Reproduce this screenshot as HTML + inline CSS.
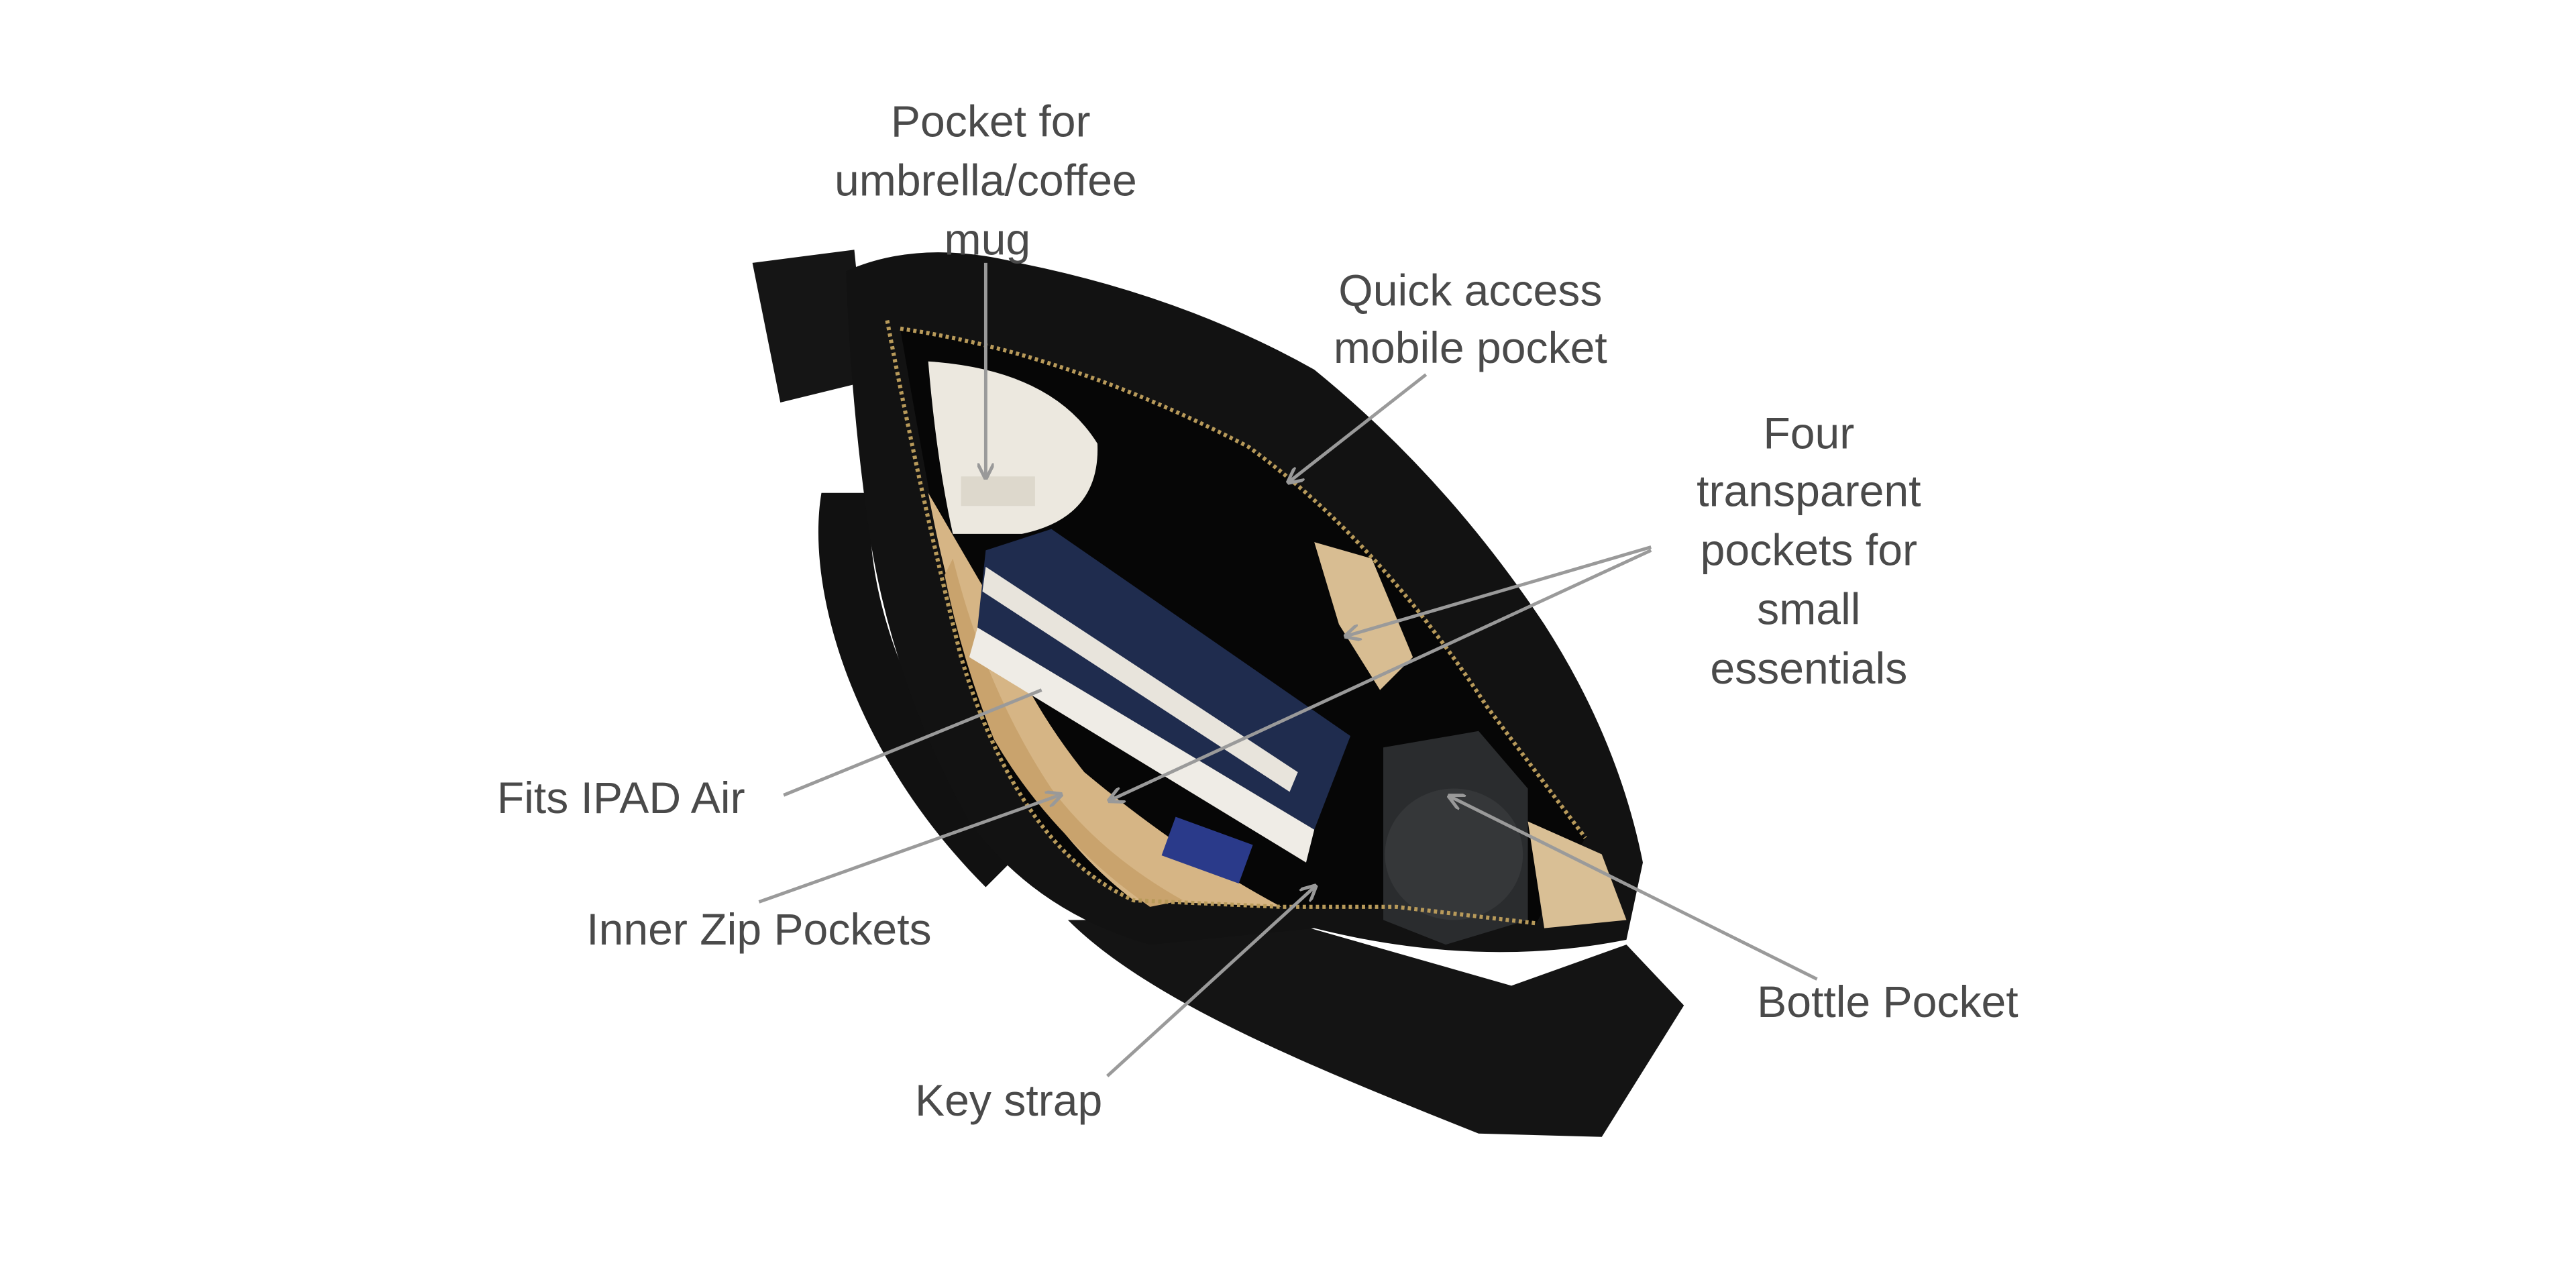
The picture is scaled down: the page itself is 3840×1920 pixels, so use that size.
<!DOCTYPE html>
<html><head><meta charset="utf-8"><style>
html,body{margin:0;padding:0;background:#fff}
svg{display:block}
text{font-family:"Liberation Sans",sans-serif;fill:#4a4a4a;font-size:27px}
</style></head><body>
<svg width="3840" height="1920" viewBox="0 0 1568 784" xmlns="http://www.w3.org/2000/svg">
<defs>
<marker id="a" viewBox="0 0 10 10" refX="8" refY="5" markerWidth="5" markerHeight="5" orient="auto"><path d="M0,0 L10,5 L0,10" fill="none" stroke="#999" stroke-width="2"/></marker>
</defs>
<rect width="1568" height="784" fill="#fff"/>
<!-- straps -->
<path d="M458,160 L520,152 L528,232 L475,245 Z" fill="#151515"/>
<path d="M500,300 C490,360 520,460 600,540 L620,520 C560,450 525,370 530,300 Z" fill="#111"/>
<path d="M650,560 C700,610 800,650 900,690 L975,692 L1025,612 L990,575 L920,600 L780,560 Z" fill="#141414"/>
<!-- body -->
<path d="M515,165 Q560,145 620,160 Q720,180 800,225 Q880,290 940,380 Q985,450 1000,525 L990,572 Q900,590 800,565 L700,575 Q630,555 590,500 Q545,420 530,330 Q518,250 515,165 Z" fill="#121212"/>
<!-- opening -->
<path d="M548,200 Q650,215 760,272 Q840,330 905,430 L965,510 L935,562 L850,552 L760,552 L690,548 Q640,520 622,485 Q595,440 585,400 Q565,300 548,200 Z" fill="#060606"/>
<!-- tan lining -->
<path d="M565,300 Q580,380 605,440 Q640,510 690,548 L780,552 Q720,520 660,470 Q620,420 600,360 Z" fill="#d6b585"/>
<path d="M580,340 Q600,420 640,480 Q670,520 720,548 L700,552 Q640,510 605,450 Q585,400 575,350 Z" fill="#c9a36d"/>
<path d="M800,330 L835,340 L860,400 L840,420 L815,380 Z" fill="#d8bd92"/>
<path d="M930,500 L975,520 L990,560 L940,565 Z" fill="#d9bf95"/>
<!-- cup -->
<path d="M565,220 Q640,225 668,270 Q670,315 622,325 L580,325 Q570,280 565,220 Z" fill="#ece8df"/>
<rect x="585" y="290" width="45" height="18" fill="#ddd8cc"/>
<!-- book -->
<path d="M600,335 L640,322 L822,448 L800,505 L595,382 Z" fill="#1f2c4e"/>
<path d="M595,382 L800,505 L795,525 L590,400 Z" fill="#efece6"/>
<path d="M600,345 L790,470 L785,482 L598,360 Z" fill="#e8e4dc"/>
<rect x="710" y="505" width="50" height="25" fill="#2a3a8a" transform="rotate(20 735 517)"/>
<!-- bottle -->
<path d="M842,455 L900,445 L930,480 L930,560 L880,575 L842,560 Z" fill="#2a2c2e"/>
<ellipse cx="885" cy="520" rx="42" ry="40" fill="#353739"/>
<!-- zipper hints -->
<path d="M548,200 Q650,215 760,272 Q840,330 905,430 L965,510" fill="none" stroke="#b89a5a" stroke-width="2.5" stroke-dasharray="2 2"/>
<path d="M540,195 Q560,300 585,400 Q600,450 622,485 Q650,530 690,548 L780,552 L850,552 L935,562" fill="none" stroke="#b89a5a" stroke-width="2.5" stroke-dasharray="2 2"/>
<!-- connectors -->
<g stroke="#9a9a9a" stroke-width="2" fill="none">
<line x1="600" y1="160" x2="600" y2="290" marker-end="url(#a)"/>
<line x1="868" y1="228" x2="785" y2="293" marker-end="url(#a)"/>
<line x1="1005" y1="333" x2="820" y2="387" marker-end="url(#a)"/>
<line x1="1005" y1="335" x2="676" y2="487" marker-end="url(#a)"/>
<line x1="477" y1="484" x2="634" y2="420"/>
<line x1="462" y1="549" x2="645" y2="484" marker-end="url(#a)"/>
<line x1="674" y1="655" x2="800" y2="540" marker-end="url(#a)"/>
<line x1="1106" y1="596" x2="883" y2="485" marker-end="url(#a)"/>
</g>
<!-- labels -->
<g text-anchor="middle">
<text x="603" y="83">Pocket for</text>
<text x="600" y="119">umbrella/coffee</text>
<text x="601" y="155">mug</text>
<text x="895" y="186">Quick access</text>
<text x="895" y="221">mobile pocket</text>
<text x="1101" y="273">Four</text>
<text x="1101" y="308">transparent</text>
<text x="1101" y="344">pockets for</text>
<text x="1101" y="380">small</text>
<text x="1101" y="416">essentials</text>
<text x="378" y="495">Fits IPAD Air</text>
<text x="462" y="575">Inner Zip Pockets</text>
<text x="1149" y="619">Bottle Pocket</text>
<text x="614" y="679">Key strap</text>
</g>
</svg>
</body></html>
